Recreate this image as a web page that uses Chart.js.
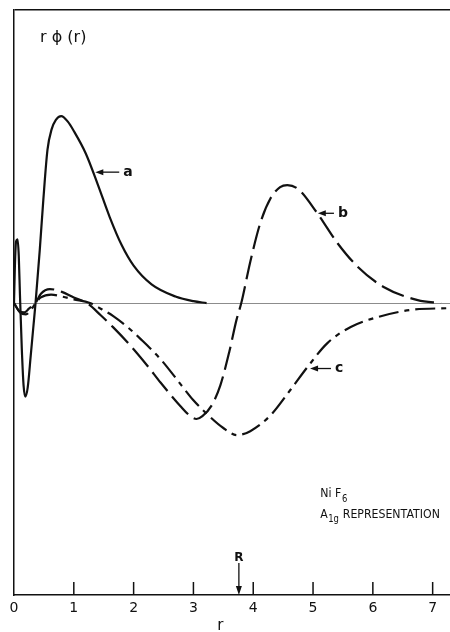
<!DOCTYPE html>
<html>
<head>
<meta charset="utf-8">
<script src="https://cdn.jsdelivr.net/npm/chart.js@4.4.1/dist/chart.umd.min.js"></script>
<style>
  html, body { margin: 0; padding: 0; background: #fff; }
  #chart { display: block; }
</style>
</head>
<body>
<canvas id="chart" width="450" height="632"></canvas>
<script>
// r values (x) and r*phi(r) values (arbitrary units, peak of a = 1)
const rA = [0, 0.015, 0.035, 0.06, 0.08, 0.10, 0.13, 0.16, 0.19, 0.23, 0.28, 0.32, 0.36, 0.43, 0.49, 0.56, 0.63, 0.70, 0.79, 0.90, 1.00, 1.20, 1.40, 1.60, 1.80, 2.00, 2.30, 2.70, 3.00, 3.22];
const valA = [0, 0.20, 0.33, 0.34, 0.25, 0.04, -0.24, -0.44, -0.50, -0.45, -0.28, -0.14, 0, 0.28, 0.55, 0.82, 0.93, 0.98, 1.0, 0.97, 0.92, 0.80, 0.635, 0.46, 0.31, 0.20, 0.10, 0.035, 0.01, 0];

const rB = [0, 0.08, 0.17, 0.25, 0.36, 0.45, 0.60, 0.80, 1.00, 1.22, 1.45, 1.66, 1.94, 2.23, 2.45, 2.78, 2.95, 3.05, 3.15, 3.30, 3.45, 3.60, 3.72, 3.80, 3.95, 4.12, 4.29, 4.45, 4.57, 4.75, 5.07, 5.41, 5.75, 6.18, 6.75, 7.14];
const valB = [0, -0.04, -0.05, -0.03, 0, 0.05, 0.075, 0.06, 0.03, 0, -0.065, -0.13, -0.225, -0.335, -0.425, -0.55, -0.605, -0.62, -0.605, -0.55, -0.44, -0.26, -0.09, 0, 0.22, 0.43, 0.56, 0.62, 0.631, 0.61, 0.481, 0.32, 0.193, 0.086, 0.016, 0];

const rC = [0, 0.10, 0.20, 0.30, 0.36, 0.45, 0.62, 0.80, 1.00, 1.27, 1.45, 1.66, 1.94, 2.11, 2.45, 2.80, 3.00, 3.20, 3.50, 3.73, 3.95, 4.29, 4.62, 4.90, 5.24, 5.63, 6.08, 6.63, 7.29];
const valC = [0, -0.05, -0.06, -0.03, 0, 0.03, 0.045, 0.035, 0.02, 0, -0.03, -0.07, -0.14, -0.19, -0.30, -0.44, -0.52, -0.585, -0.668, -0.706, -0.685, -0.60, -0.465, -0.345, -0.214, -0.128, -0.075, -0.037, -0.027];

const xTicks = [0, 1, 2, 3, 4, 5, 6, 7];
const xMin = 0, xMax = 7.29;
const yMin = -1.561, yMax = 1.567;
const rNucleus = 3.76; // R marker

// curve labels: [text, arrow tip r, arrow tip value, text r]
const curveLabels = [
  ['a', 1.36, 0.70, 1.86],
  ['b', 5.08, 0.48, 5.45],
  ['c', 4.95, -0.35, 5.40]
];

const ink = '#111';
const toPoints = (xs, ys) => xs.map((x, i) => ({ x: x, y: ys[i] }));

const annotations = {
  id: 'annotations',
  afterDraw(chart) {
    const ctx = chart.ctx;
    const xs = chart.scales.x, ys = chart.scales.y;
    const area = chart.chartArea;
    ctx.save();
    ctx.strokeStyle = ink;
    ctx.fillStyle = ink;

    // inward tick marks
    ctx.lineWidth = 1.5;
    xTicks.filter(v => v > 0).forEach(v => {
      const px = xs.getPixelForValue(v);
      ctx.beginPath();
      ctx.moveTo(px, area.bottom);
      ctx.lineTo(px, area.bottom - 13);
      ctx.stroke();
    });

    // R arrow
    const rx = xs.getPixelForValue(rNucleus);
    ctx.lineWidth = 1.3;
    ctx.beginPath();
    ctx.moveTo(rx, area.bottom - 32);
    ctx.lineTo(rx, area.bottom - 4);
    ctx.stroke();
    ctx.beginPath();
    ctx.moveTo(rx, area.bottom);
    ctx.lineTo(rx - 3, area.bottom - 9);
    ctx.lineTo(rx + 3, area.bottom - 9);
    ctx.closePath();
    ctx.fill();
    ctx.font = 'bold 12px "DejaVu Sans"';
    ctx.textAlign = 'center';
    ctx.textBaseline = 'alphabetic';
    ctx.fillText('R', rx, area.bottom - 34);

    // curve labels with arrows
    ctx.font = 'bold 14px "DejaVu Sans"';
    ctx.textBaseline = 'middle';
    ctx.textAlign = 'left';
    curveLabels.forEach(([t, r0, v0, r1]) => {
      const x0 = xs.getPixelForValue(r0), y0 = ys.getPixelForValue(v0);
      const x1 = xs.getPixelForValue(r1);
      ctx.lineWidth = 1.3;
      ctx.beginPath();
      ctx.moveTo(x0 + 4, y0);
      ctx.lineTo(x1 - 6, y0);
      ctx.stroke();
      ctx.beginPath();
      ctx.moveTo(x0, y0);
      ctx.lineTo(x0 + 8, y0 - 3);
      ctx.lineTo(x0 + 8, y0 + 3);
      ctx.closePath();
      ctx.fill();
      ctx.fillText(t, x1 - 2, y0);
    });

    // axis label top-left
    ctx.font = '16px "DejaVu Sans"';
    ctx.textBaseline = 'alphabetic';
    ctx.fillText('r \u03D5 (r)', area.left + 26, area.top + 32);

    // x axis title
    ctx.font = '15px "DejaVu Sans"';
    ctx.textAlign = 'center';
    ctx.fillText('r', xs.getPixelForValue(3.45), 630);

    // compound label, squeezed to the width it has in the figure
    const lx = xs.getPixelForValue(5.12);
    const lw = xs.getPixelForValue(7.12) - lx;
    ctx.textAlign = 'left';
    ctx.font = '13px "DejaVu Sans"';
    const wA = ctx.measureText('A').width;
    const wRep = ctx.measureText(' REPRESENTATION').width;
    ctx.font = '10px "DejaVu Sans"';
    const wSub = ctx.measureText('1g').width;
    const k = lw / (wA + wSub + 1 + wRep);
    ctx.translate(lx, 0);
    ctx.scale(k, 1);
    ctx.font = '13px "DejaVu Sans"';
    ctx.fillText('Ni F', 0, 497);
    const wN = ctx.measureText('Ni F').width;
    ctx.fillText('A', 0, 518);
    ctx.fillText(' REPRESENTATION', wA + wSub + 1, 518);
    ctx.font = '10px "DejaVu Sans"';
    ctx.fillText('6', wN + 1, 502);
    ctx.fillText('1g', wA + 0.5, 522);

    ctx.restore();
  }
};

new Chart(document.getElementById('chart'), {
  type: 'line',
  data: {
    datasets: [
      { label: 'a', data: toPoints(rA, valA), borderColor: ink, borderWidth: 2.2 },
      { label: 'b', data: toPoints(rB, valB), borderColor: ink, borderWidth: 2.2, borderDash: [24, 7] },
      { label: 'c', data: toPoints(rC, valC), borderColor: ink, borderWidth: 2.2, borderDash: [20, 6, 5, 6] }
    ]
  },
  options: {
    responsive: false,
    animation: false,
    devicePixelRatio: 1,
    layout: { padding: { left: 14, top: 10, right: 0, bottom: 0 } },
    elements: {
      point: { radius: 0 },
      line: { cubicInterpolationMode: 'monotone', fill: false }
    },
    plugins: { legend: { display: false }, tooltip: { enabled: false } },
    scales: {
      x: {
        type: 'linear',
        min: xMin,
        max: xMax,
        afterBuildTicks: s => { s.ticks = xTicks.map(v => ({ value: v })); },
        afterFit: s => { s.height = 37; },
        ticks: {
          color: ink,
          font: { family: 'DejaVu Sans', size: 14 },
          padding: 5,
          maxRotation: 0,
          autoSkip: false
        },
        grid: { display: true, drawOnChartArea: false, drawTicks: false },
        border: { display: true, color: ink, width: 1.5 }
      },
      y: {
        min: yMin,
        max: yMax,
        afterBuildTicks: s => { s.ticks = [{ value: 0 }, { value: yMax }]; },
        afterFit: s => { s.width = 0; },
        ticks: { display: false },
        grid: {
          drawTicks: false,
          color: c => (c.tick && c.tick.value === 0) ? '#8c8c8c' : ink,
          lineWidth: c => (c.tick && c.tick.value === 0) ? 1 : 1.5
        },
        border: { display: true, color: ink, width: 1.5 }
      }
    }
  },
  plugins: [annotations]
});
</script>
</body>
</html>
